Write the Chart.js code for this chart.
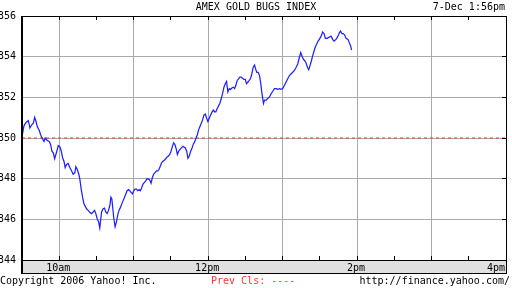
<!DOCTYPE html>
<html>
<head>
<meta charset="utf-8">
<script src="https://cdn.jsdelivr.net/npm/chart.js@4"></script>
<style>
  html, body { margin: 0; padding: 0; background: #fff; }
  #wrap { position: relative; width: 512px; height: 288px; overflow: hidden; font: 10px/10px 'DejaVu Sans Mono', monospace; color: #000; }
  #wrap canvas { position: absolute; left: 0; top: 0; }
  .txt { position: absolute; white-space: pre; }
</style>
</head>
<body>
<div id="wrap">
  <canvas id="gdxChart" width="512" height="288"></canvas>
  <div class="txt" style="left:0;width:512px;text-align:center;top:2px">AMEX GOLD BUGS INDEX</div>
  <div class="txt" style="right:7px;top:2px">7-Dec 1:56pm</div>
  <div class="txt" style="left:0;top:276px">Copyright 2006 Yahoo! Inc.</div>
  <div class="txt" style="left:211px;top:276px;color:#ff3333">Prev Cls: ----</div>
  <div class="txt" style="right:2px;top:276px">http://finance.yahoo.com/</div>
</div>
<script>
// minutes after 9:30am
const minutes = [
  0, 1.6, 3.2, 5.1, 6.4, 7.8, 9.1, 10.2, 11.3, 12.3,
  13.9, 15.0, 16.6, 17.7, 18.7, 20.3, 22.0, 23.1, 24.1, 25.2,
  26.3, 27.3, 28.4, 29.2, 30.6, 31.6, 32.7, 33.8, 34.8, 35.9,
  37.2, 38.6, 40.0, 41.2, 42.6, 43.4, 44.5, 45.8, 46.6, 47.7,
  48.8, 49.9, 50.9, 52.0, 53.3, 54.7, 56.0, 57.3, 58.5, 59.5,
  60.5, 61.7, 62.7, 64.1, 65.4, 66.5, 67.5, 68.6, 69.7, 70.8,
  71.6, 72.4, 73.2, 74.0, 75.0, 76.1, 77.2, 78.2, 79.4, 80.4,
  81.5, 82.6, 83.6, 84.7, 85.8, 86.8, 87.9, 89.0, 90.1, 91.1,
  92.2, 93.3, 94.3, 95.4, 96.5, 97.5, 98.7, 99.7, 100.8, 101.9,
  102.9, 104.0, 105.1, 106.1, 107.2, 108.3, 109.4, 110.4, 111.5, 112.6,
  113.6, 114.7, 115.8, 116.8, 118.0, 119.0, 120.1, 121.2, 122.2, 123.3,
  124.4, 125.2, 126.2, 127.8, 129.7, 131.6, 132.7, 133.7, 134.8, 135.9,
  136.9, 138.1, 139.1, 140.2, 141.3, 142.3, 143.4, 144.5, 145.5, 146.6,
  147.7, 148.8, 149.8, 150.9, 152.0, 153.0, 154.1, 155.2, 156.2, 157.4,
  158.4, 159.4, 160.6, 161.6, 162.7, 163.8, 164.8, 165.9, 167.0, 168.1,
  169.1, 170.2, 171.3, 172.3, 173.4, 174.5, 175.5, 176.7, 177.7, 178.8,
  179.9, 180.9, 182.0, 183.1, 184.1, 185.2, 186.3, 187.4, 188.2, 189.2,
  190.3, 191.4, 192.4, 193.2, 194.0, 194.6, 195.4, 196.8, 198.0, 199.4,
  200.8, 202.1, 203.4, 204.8, 206.1, 207.5, 208.8, 210.1, 211.5, 212.8,
  214.1, 215.5, 216.9, 218.1, 219.5, 220.9, 222.2, 223.5, 224.6, 225.7,
  226.7, 227.8, 228.9, 230.0, 231.0, 232.1, 233.2, 234.2, 235.4, 236.4,
  237.4, 238.6, 239.6, 241.0, 242.3, 243.4, 244.4, 246.0, 247.7, 249.0,
  250.3, 251.4, 253.0, 254.3, 255.7, 256.7, 257.8, 258.9, 260.0, 261.1,
  262.7, 263.7, 264.8, 265.6
];

const prices = [
  350.08, 350.60, 350.76, 350.85, 350.49, 350.65, 350.73, 351.02, 350.81, 350.56,
  350.37, 350.16, 349.95, 349.83, 350.00, 349.88, 349.83, 349.67, 349.35, 349.27,
  348.98, 349.19, 349.43, 349.63, 349.56, 349.35, 349.03, 348.86, 348.54, 348.70,
  348.75, 348.54, 348.38, 348.22, 348.30, 348.59, 348.46, 348.22, 347.98, 347.49,
  347.09, 346.76, 346.65, 346.52, 346.44, 346.33, 346.28, 346.36, 346.44, 346.28,
  346.04, 345.88, 345.58, 346.36, 346.52, 346.55, 346.36, 346.28, 346.44, 346.68,
  347.09, 347.00, 346.52, 346.04, 345.63, 345.87, 346.23, 346.44, 346.60, 346.76,
  346.92, 347.09, 347.25, 347.41, 347.46, 347.41, 347.33, 347.25, 347.41, 347.49,
  347.49, 347.41, 347.46, 347.41, 347.57, 347.73, 347.82, 347.89, 348.01, 347.98,
  347.94, 347.78, 348.06, 348.22, 348.30, 348.38, 348.38, 348.46, 348.62, 348.79,
  348.86, 348.91, 348.98, 349.06, 349.11, 349.19, 349.35, 349.59, 349.76, 349.67,
  349.43, 349.19, 349.35, 349.48, 349.59, 349.51, 349.35, 349.00, 349.11, 349.35,
  349.48, 349.71, 349.81, 350.00, 350.16, 350.40, 350.56, 350.73, 350.89, 351.13,
  351.18, 350.97, 350.81, 350.97, 351.13, 351.26, 351.37, 351.29, 351.29, 351.46,
  351.58, 351.70, 351.94, 352.18, 352.50, 352.67, 352.78, 352.26, 352.43, 352.39,
  352.46, 352.50, 352.43, 352.59, 352.83, 352.91, 352.99, 352.99, 352.94, 352.88,
  352.88, 352.67, 352.75, 352.83, 352.91, 353.16, 353.48, 353.59, 353.40, 353.23,
  353.23, 353.07, 352.67, 352.26, 351.94, 351.70, 351.86, 351.86, 351.94, 352.02,
  352.18, 352.30, 352.43, 352.43, 352.39, 352.43, 352.39, 352.43, 352.59, 352.75,
  352.91, 353.07, 353.16, 353.23, 353.32, 353.48, 353.64, 353.96, 354.20, 354.01,
  353.88, 353.80, 353.69, 353.48, 353.36, 353.56, 353.80, 354.04, 354.29, 354.49,
  354.61, 354.77, 354.85, 355.01, 355.21, 355.13, 354.90, 354.90, 354.97, 355.01,
  354.85, 354.77, 354.85, 354.97, 355.17, 355.26, 355.13, 355.13, 355.06, 354.90,
  354.85, 354.69, 354.53, 354.32
];

const prevClose = 350;
const sessionStart = 0;    // 9:30am
const sessionEnd = 390;    // 4:00pm
const timeLabelMinutes = [30, 150, 270, 390];
const timeLabels = ['10am', '12pm', '2pm', '4pm'];
const priceMin = 344;
const priceMax = 356;
const priceStep = 2;

const monoFont = "'DejaVu Sans Mono', monospace";

// frame, time band, edge ticks and time labels
const framePlugin = {
  id: 'frame',
  afterDraw(chart) {
    const { ctx, chartArea: a, scales: { x, y } } = chart;
    const band = 13;
    const w = a.right - a.left;
    ctx.save();
    ctx.fillStyle = '#e0e0e0';
    ctx.fillRect(a.left, a.bottom, w, band);
    ctx.fillStyle = '#000';
    ctx.fillRect(a.left, a.top, w + 1, 1);
    ctx.fillRect(a.left, a.bottom, w + 1, 1);
    ctx.fillRect(a.left - 1, a.bottom + band, w + 2, 1);
    ctx.fillRect(a.left - 1, a.top, 2, a.bottom + band - a.top + 1);
    ctx.fillRect(a.right, a.top, 1, a.bottom + band - a.top + 1);

    x.ticks.forEach(t => {
      if (t.value <= x.min || t.value >= x.max) return;
      const px = Math.round(x.getPixelForValue(t.value) - 0.5);
      ctx.fillRect(px, a.top, 1, 4);
      ctx.fillRect(px, a.bottom - 4, 1, 4);
    });
    y.ticks.forEach(t => {
      if (t.value <= y.min || t.value >= y.max) return;
      const py = Math.round(y.getPixelForValue(t.value) - 0.5);
      ctx.fillRect(a.right - 4, py, 4, 1);
    });

    ctx.font = '10px ' + monoFont;
    ctx.textBaseline = 'alphabetic';
    timeLabels.forEach((label, i) => {
      const v = timeLabelMinutes[i];
      const last = v >= x.max;
      ctx.textAlign = last ? 'right' : 'center';
      const px = last ? a.right - 1 : x.getPixelForValue(v) - 1;
      ctx.fillText(label, px, a.bottom + 11);
    });
    ctx.restore();
  }
};

document.addEventListener('DOMContentLoaded', () => {
  const canvas = document.getElementById('gdxChart');

  new Chart(canvas, {
    type: 'line',
    data: {
      datasets: [{
        label: 'AMEX Gold Bugs Index',
        data: minutes.map((m, i) => ({ x: m, y: prices[i] })),
        borderColor: '#2020ff',
        borderWidth: 1.25,
        pointRadius: 0,
        tension: 0,
        order: 1
      }, {
        label: 'Prev Cls',
        data: [{ x: sessionStart, y: prevClose }, { x: sessionEnd, y: prevClose }],
        borderColor: '#ee3333',
        borderWidth: 1,
        borderDash: [3, 3],
        pointRadius: 0,
        order: 2
      }]
    },
    options: {
      responsive: false,
      animation: false,
      events: [],
      layout: {
        autoPadding: false,
        padding: { top: 16, right: 6, bottom: 28, left: 0 }
      },
      plugins: {
        legend: { display: false },
        tooltip: { enabled: false }
      },
      scales: {
        x: {
          type: 'linear',
          min: sessionStart,
          max: sessionEnd,
          afterFit: s => { s.height = 0; },
          ticks: { display: false, stepSize: 30, autoSkip: false },
          grid: {
            drawTicks: false,
            color: c => (c.tick && c.tick.value % 60 === 30) ? '#aaaaaa' : 'rgba(0,0,0,0)'
          },
          border: { display: false }
        },
        y: {
          min: priceMin,
          max: priceMax,
          afterFit: s => { s.width = 22; },
          ticks: {
            stepSize: priceStep,
            padding: 6,
            color: '#000',
            font: { family: monoFont, size: 10 }
          },
          grid: { drawTicks: false, color: '#aaaaaa' },
          border: { display: false }
        }
      }
    },
    plugins: [framePlugin]
  });
});
</script>
</body>
</html>
